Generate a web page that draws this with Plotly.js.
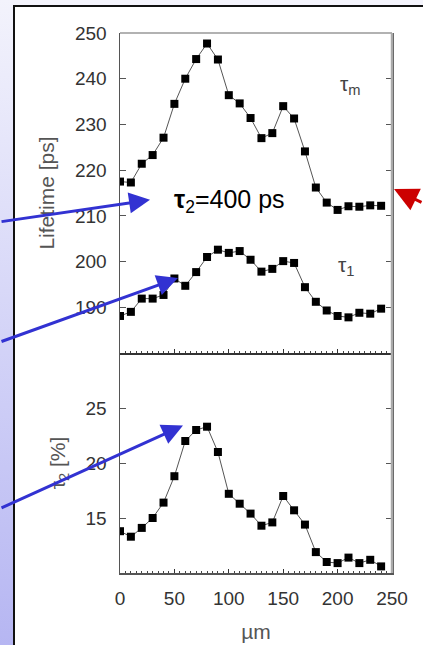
<!DOCTYPE html>
<html>
<head>
<meta charset="utf-8">
<script src="https://cdn.plot.ly/plotly-3.0.1.min.js"></script>
<style>
  html, body { margin: 0; padding: 0; width: 423px; height: 645px; overflow: hidden; background: #ffffff; }
  #strip { position: absolute; left: 0; top: 0; width: 14px; height: 645px;
           background: linear-gradient(to bottom, #f3f3fc 0%, #d8d8f8 45%, #b6b6f2 100%); }
  #topstrip { position: absolute; left: 0; top: 0; width: 423px; height: 5px; background: #f4f4fc; }
  #vline { position: absolute; left: 13px; top: 5px; width: 2px; height: 640px; background: #111; }
  #hline { position: absolute; left: 13px; top: 5px; width: 410px; height: 2px; background: #111; }
  #gd { position: absolute; left: 0; top: 0; width: 423px; height: 645px; }
</style>
</head>
<body>
<div id="topstrip"></div>
<div id="strip"></div>
<div id="vline"></div>
<div id="hline"></div>
<div id="gd"></div>
<script>
// Position along the sample (µm)
var positions = [0, 10, 20, 30, 40, 50, 60, 70, 80, 90, 100, 110, 120, 130, 140, 150, 160, 170, 180, 190, 200, 210, 220, 230, 240];
// Mean lifetime tau_m [ps]
var tauM = [217.5, 217.3, 221.4, 223.3, 227.1, 234.5, 240.0, 244.3, 247.7, 244.2, 236.4, 234.6, 231.4, 227.0, 228.1, 234.0, 231.3, 224.1, 216.2, 212.9, 211.3, 212.1, 212.0, 212.3, 212.2];
// Short lifetime tau_1 [ps]
var tau1 = [188.1, 189.0, 191.9, 191.9, 192.7, 196.3, 194.7, 197.7, 201.0, 202.6, 201.9, 202.3, 200.4, 197.8, 198.4, 200.1, 199.7, 194.4, 191.2, 189.3, 188.1, 187.8, 188.8, 188.6, 189.7];
// Intensity I2 [%]
var int2 = [13.8, 13.3, 14.1, 15.0, 16.4, 18.8, 22.0, 23.0, 23.3, 21.0, 17.2, 16.3, 15.4, 14.3, 14.6, 17.0, 15.7, 14.4, 11.9, 11.0, 10.9, 11.4, 10.9, 11.2, 10.6];

var topTicks = [190, 200, 210, 220, 230, 240, 250];
var bottomTicks = [15, 20, 25];
var xTicks = [0, 50, 100, 150, 200, 250];

var markerStyle = { symbol: 'square', size: 8, color: '#000' };
var lineStyle = { color: '#555', width: 1 };

var traces = [
  { x: positions, y: tauM, xaxis: 'x', yaxis: 'y', mode: 'lines+markers', marker: markerStyle, line: lineStyle, hoverinfo: 'none' },
  { x: positions, y: tau1, xaxis: 'x', yaxis: 'y', mode: 'lines+markers', marker: markerStyle, line: lineStyle, hoverinfo: 'none' },
  { x: positions, y: int2, xaxis: 'x2', yaxis: 'y2', mode: 'lines+markers', marker: markerStyle, line: lineStyle, hoverinfo: 'none' }
];

var tickFont = { family: 'Liberation Sans, Arial, sans-serif', size: 19, color: '#333' };
var titleFont = { family: 'Liberation Sans, Arial, sans-serif', size: 21, color: '#555' };
var blue = '#3232d2';

var layout = {
  width: 423, height: 645,
  margin: { l: 120, r: 31, t: 33, b: 72 },
  paper_bgcolor: 'rgba(0,0,0,0)',
  plot_bgcolor: 'rgba(0,0,0,0)',
  showlegend: false,
  xaxis: {
    domain: [0, 1], anchor: 'y', range: [0, 250], tickvals: xTicks, showticklabels: false,
    ticks: 'inside', ticklen: 4, tickcolor: '#333', showline: true, linecolor: '#333', linewidth: 1.5,
    showgrid: false, zeroline: false,
    minor: { dtick: 5, ticks: 'inside', ticklen: 2.5, tickcolor: '#444', showgrid: false }
  },
  xaxis2: {
    domain: [0, 1], anchor: 'y2', range: [0, 250], tickvals: xTicks, tickfont: tickFont,
    ticks: 'inside', ticklen: 4, tickcolor: '#333', showline: true, linecolor: '#555', linewidth: 1.5,
    showgrid: false, zeroline: false, ticklabelstandoff: 8,
    minor: { dtick: 5, ticks: 'inside', ticklen: 2.5, tickcolor: '#444', showgrid: false },
    title: { text: 'µm', font: titleFont, standoff: 16 }
  },
  yaxis: {
    domain: [0.4074, 1], anchor: 'x', range: [180, 250], tickvals: topTicks, tickfont: tickFont,
    ticks: 'inside', ticklen: 6, tickcolor: '#555', showline: true, linecolor: '#555', linewidth: 1.5,
    mirror: 'ticks', showgrid: false, zeroline: false, ticklabelstandoff: 8,
    title: { text: 'Lifetime [ps]', font: titleFont, standoff: 14 }
  },
  yaxis2: {
    domain: [0, 0.4074], anchor: 'x2', range: [10, 30], tickvals: bottomTicks, tickfont: tickFont,
    ticks: 'inside', ticklen: 6, tickcolor: '#555', showline: true, linecolor: '#555', linewidth: 1.5,
    mirror: 'ticks', showgrid: false, zeroline: false, ticklabelstandoff: 8,
    title: { text: 'τ<sub>2</sub> [%]', font: titleFont, standoff: 14 }
  },
  shapes: [
    { type: 'line', xref: 'paper', yref: 'paper', x0: 0, x1: 1, y0: 1, y1: 1, line: { color: '#999', width: 1.5 } },
    { type: 'line', xref: 'paper', yref: 'paper', x0: 1, x1: 1, y0: 0, y1: 1, line: { color: '#aaa', width: 2.5 } }
  ],
  annotations: [
    { xref: 'x', yref: 'y', x: 212, y: 238.6, text: 'τ<sub>m</sub>', showarrow: false, font: { family: 'Liberation Sans, Arial, sans-serif', size: 21, color: '#444' } },
    { xref: 'x', yref: 'y', x: 208, y: 199.0, text: 'τ<sub>1</sub>', showarrow: false, font: { family: 'Liberation Sans, Arial, sans-serif', size: 21, color: '#444' } },
    { xref: 'x', yref: 'y', x: 101, y: 213.2, text: '<b>τ</b><sub>2</sub>=400 ps', showarrow: false, font: { family: 'Liberation Sans, Arial, sans-serif', size: 25, color: '#000' } },
    { xref: 'x', yref: 'y', x: 27.6, y: 213.5, ax: -150, ay: 22, text: '', showarrow: true, arrowhead: 2, arrowsize: 1.4, arrowwidth: 3, arrowcolor: blue, standoff: 0, startstandoff: 0 },
    { xref: 'x', yref: 'y', x: 53.3, y: 196.4, ax: -178, ay: 64, text: '', showarrow: true, arrowhead: 2, arrowsize: 1.4, arrowwidth: 3, arrowcolor: blue, standoff: 0, startstandoff: 0 },
    { xref: 'x2', yref: 'y2', x: 57.9, y: 23.4, ax: -183, ay: 83, text: '', showarrow: true, arrowhead: 2, arrowsize: 1.4, arrowwidth: 3, arrowcolor: blue, standoff: 0, startstandoff: 0 },
    { xref: 'paper', yref: 'paper', x: 1.0074, y: 0.711, ax: 32, ay: 14, text: '', showarrow: true, arrowhead: 2, arrowsize: 1.6, arrowwidth: 3, arrowcolor: '#cc0000', standoff: 0, startstandoff: 0 }
  ]
};

Plotly.newPlot('gd', traces, layout, { displayModeBar: false, staticPlot: true });
</script>
</body>
</html>
